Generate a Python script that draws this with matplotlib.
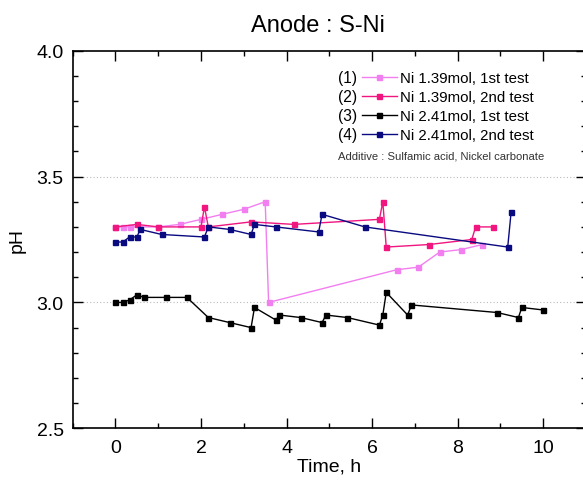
import matplotlib
matplotlib.use("Agg")
import matplotlib.pyplot as plt
from matplotlib.ticker import MultipleLocator
from matplotlib.transforms import IdentityTransform

plt.rcParams['font.family'] = ['Liberation Sans', 'DejaVu Sans']

# Data
t1 = [0, 0.17, 0.33, 1.0, 1.5, 2.0, 2.5, 3.0, 3.5, 3.58, 6.58, 7.08, 7.58, 8.08, 8.58]
ph1 = [3.30, 3.30, 3.30, 3.30, 3.31, 3.33, 3.35, 3.37, 3.40, 3.00, 3.13, 3.14, 3.20, 3.21, 3.23]

t2 = [0, 0.5, 1.0, 2.0, 2.08, 2.17, 3.17, 4.17, 6.17, 6.25, 6.33, 7.33, 8.33, 8.42, 8.83]
ph2 = [3.30, 3.31, 3.30, 3.30, 3.38, 3.30, 3.32, 3.31, 3.33, 3.40, 3.22, 3.23, 3.25, 3.30, 3.30]

t3 = [0, 0.17, 0.33, 0.5, 0.67, 1.17, 1.67, 2.17, 2.67, 3.17, 3.25, 3.75, 3.83, 4.33,
      4.83, 4.92, 5.42, 6.17, 6.25, 6.33, 6.83, 6.92, 8.92, 9.42, 9.5, 10.0]
ph3 = [3.00, 3.00, 3.01, 3.03, 3.02, 3.02, 3.02, 2.94, 2.92, 2.90, 2.98, 2.93, 2.95, 2.94,
       2.92, 2.95, 2.94, 2.91, 2.95, 3.04, 2.95, 2.99, 2.96, 2.94, 2.98, 2.97]

t4 = [0, 0.17, 0.33, 0.5, 0.58, 1.08, 2.08, 2.17, 2.67, 3.17, 3.25, 3.75, 4.75, 4.83, 5.83, 9.17, 9.25]
ph4 = [3.24, 3.24, 3.26, 3.26, 3.29, 3.27, 3.26, 3.30, 3.29, 3.27, 3.31, 3.30, 3.28, 3.35, 3.30, 3.22, 3.36]

labels = ["Ni 1.39mol, 1st test", "Ni 1.39mol, 2nd test", "Ni 2.41mol, 1st test", "Ni 2.41mol, 2nd test"]
nums = ["(1)", "(2)", "(3)", "(4)"]
colors = ["#F27FF0", "#F0157F", "#000000", "#0A0A80"]
xticks = [0, 2, 4, 6, 8, 10]
yticks = [2.5, 3.0, 3.5, 4.0]

W, H = 583, 481
fig = plt.figure(figsize=(W / 100, H / 100), dpi=100)
left, right, bottom, top = 72.7, 586, 429.3, 51.7
ax = fig.add_axes([left / W, 1 - bottom / H, (right - left) / W, (bottom - top) / H])

series = [(t1, ph1), (t2, ph2), (t3, ph3), (t4, ph4)]
handles = []
for (t, p), c, lab in zip(series, colors, labels):
    h, = ax.plot(t, p, color=c, lw=1.0, marker='s', ms=3.6, mec=c, mfc=c, label=lab)
    handles.append(h)

ax.set_xlim(-1, 11)
ax.set_ylim(2.5, 4.0)
ax.set_xticks(xticks)
ax.set_yticks(yticks)
ax.set_yticklabels([f"{v:.1f}" for v in yticks])
ax.xaxis.set_minor_locator(MultipleLocator(1))
ax.yaxis.set_minor_locator(MultipleLocator(0.1))
ax.tick_params(which='both', direction='in', top=True, right=True, labelsize=14, width=1)
ax.tick_params(which='major', length=7)
ax.tick_params(which='minor', length=3.5)
ax.tick_params(axis='x', which='major', pad=8)
ax.tick_params(axis='y', which='major', pad=6.5)
for s in ax.spines.values():
    s.set_linewidth(1.2)

for yv in [3.0, 3.5]:
    ax.axhline(yv, color='#BBBBBB', lw=0.8, ls=(0, (1, 2)), zorder=0)

ax.set_xlabel("Time, h", fontsize=14, labelpad=1)
ax.set_ylabel("pH", fontsize=14, labelpad=8)
fig.text(318 / W, 1 - 31.7 / H, "Anode : S-Ni", ha='center', va='baseline', fontsize=17)

leg = ax.legend(handles=handles, loc='upper left', bbox_to_anchor=(362 / W, 1 - 72.5 / H),
                bbox_transform=fig.transFigure, frameon=False, fontsize=10.8, numpoints=1,
                handlelength=2.3, handletextpad=0.2, labelspacing=0.33, borderpad=0, borderaxespad=0)

fig.canvas.draw()
renderer = fig.canvas.get_renderer()
for n, txt in zip(nums, leg.get_texts()):
    bb = txt.get_window_extent(renderer)
    fig.text(338.3, bb.y0, n, ha='left', va='bottom', fontsize=11.2, transform=IdentityTransform())

fig.text(338 / W, 1 - 159.3 / H, "Additive : Sulfamic acid, Nickel carbonate", ha='left', va='baseline',
         fontsize=8.1, color='#333333')

fig.savefig("out.png", dpi=100)
